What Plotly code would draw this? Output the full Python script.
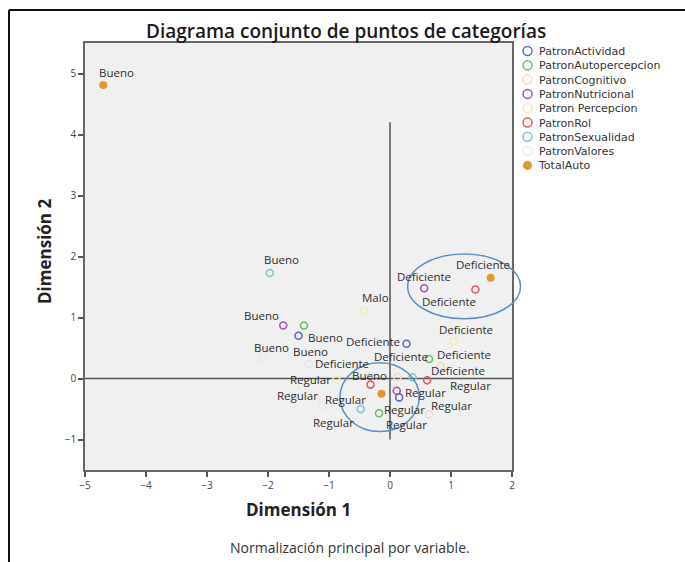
import plotly.graph_objects as go

# Category quantifications (Dimensión 1, Dimensión 2) per variable
actividad_cat = ["Bueno", "Deficiente", "Regular"]
actividad_d1 = [-1.50, 0.27, 0.15]
actividad_d2 = [0.70, 0.57, -0.31]

autopercepcion_cat = ["Bueno", "Deficiente", "Regular"]
autopercepcion_d1 = [-1.41, 0.64, -0.18]
autopercepcion_d2 = [0.87, 0.32, -0.57]

cognitivo_cat = ["Bueno", "Deficiente", "Regular"]
cognitivo_d1 = [0.12, 0.83, 0.64]
cognitivo_d2 = [0.02, 0.20, -0.59]

nutricional_cat = ["Bueno", "Deficiente", "Regular"]
nutricional_d1 = [-1.75, 0.56, 0.11]
nutricional_d2 = [0.87, 1.48, -0.20]

percepcion_cat = ["Malo", "Deficiente", "Regular"]
percepcion_d1 = [-0.43, 1.04, -0.88]
percepcion_d2 = [1.11, 0.61, -0.02]

rol_cat = ["Bueno", "Deficiente", "Regular"]
rol_d1 = [-0.32, 1.40, 0.61]
rol_d2 = [-0.10, 1.46, -0.03]

sexualidad_cat = ["Bueno", "Deficiente", "Regular"]
sexualidad_d1 = [-1.97, 0.37, -0.48]
sexualidad_d2 = [1.73, 0.02, -0.50]

valores_cat = ["Bueno", "Deficiente", "Regular"]
valores_d1 = [-2.09, -1.33, -1.11]
valores_d2 = [0.33, 0.24, -0.44]

total_cat = ["Bueno", "Deficiente", "Regular"]
total_d1 = [-4.70, 1.65, -0.14]
total_d2 = [4.81, 1.65, -0.25]

x_ticks = [-5, -4, -3, -2, -1, 0, 1, 2]
y_ticks = [-1, 0, 1, 2, 3, 4, 5]

# series: name, categories, dim1, dim2, colour, filled, label offsets (px, px)
series = [
    ("PatronActividad", actividad_cat, actividad_d1, actividad_d2, "#5b6bbd", False,
     [(12, -16), (-33, 2), (5, -12)]),
    ("PatronAutopercepcion", autopercepcion_cat, autopercepcion_d1, autopercepcion_d2, "#69bd68", False,
     [(22, -12), (-28, 2), (27, -11)]),
    ("PatronCognitivo", cognitivo_cat, cognitivo_d1, cognitivo_d2, "#f1dccb", False,
     [(-28, 2), (23, 12), (22, 9)]),
    ("PatronNutricional", nutricional_cat, nutricional_d1, nutricional_d2, "#9c5ba8", False,
     [(-22, 10), (0, 12), (29, -2)]),
    ("Patron Percepcion", percepcion_cat, percepcion_d1, percepcion_d2, "#f4ecae", False,
     [(12, 13), (13, 12), (-26, 0)]),
    ("PatronRol", rol_cat, rol_d1, rol_d2, "#e25c5c", False,
     [None, (-26, -12), (43, -5)]),
    ("PatronSexualidad", sexualidad_cat, sexualidad_d1, sexualidad_d2, "#79c9d2", False,
     [(12, 13), (45, 7), (-27, -13)]),
    ("PatronValores", valores_cat, valores_d1, valores_d2, "#e9e9e9", False,
     [(9, 11), (33, 0), (-25, 10)]),
    ("TotalAuto", total_cat, total_d1, total_d2, "#e8952f", True,
     [(13, 13), (-8, 13), (-36, -6)]),
]

X_RANGE = [-5, 2]
Y_RANGE = [-1.5, 5.5]

# plot-area placement in page pixels
W, H = 685, 562
L, R, T, B = 85, 173, 43, 92
PW, PH = W - L - R, H - T - B


def px_x(px):
    return (px - L) / PW


def px_y(py):
    return (H - B - py) / PH


def data_x(v):
    return (v - X_RANGE[0]) / (X_RANGE[1] - X_RANGE[0])


def data_y(v):
    return (v - Y_RANGE[0]) / (Y_RANGE[1] - Y_RANGE[0])


fig = go.Figure()
annotations = []
shapes = []

label_font = dict(family="Open Sans", size=11.5, color="#2e2e2e")

for name, cats, d1, d2, col, filled, offs in series:
    if filled:
        marker = dict(symbol="circle", size=8, color=col, line=dict(width=0))
    else:
        marker = dict(symbol="circle-open", size=7, color=col, line=dict(width=1.6))
    fig.add_trace(go.Scatter(x=d1, y=d2, mode="markers", marker=marker, name=name,
                             showlegend=False, cliponaxis=False, hoverinfo="text+x+y",
                             text=cats))
    for c, xv, yv, off in zip(cats, d1, d2, offs):
        if off is None:
            continue
        annotations.append(dict(x=xv, y=yv, xref="x", yref="y", text=c, showarrow=False,
                                xanchor="center", yanchor="middle", borderpad=0,
                                xshift=off[0], yshift=off[1], font=label_font))

# reference lines through the origin
shapes.append(dict(type="line", xref="x", yref="y", x0=X_RANGE[0], x1=X_RANGE[1], y0=0, y1=0,
                   line=dict(color="#555555", width=1.5), layer="below"))
shapes.append(dict(type="line", xref="x", yref="y", x0=0, x1=0, y0=-1, y1=4.2,
                   line=dict(color="#555555", width=1.5), layer="below"))

# highlighted groups (may spill past the frame, so drawn in paper units)
ellipses = [(0.29, 2.14, 0.98, 2.04), (-0.82, 0.48, -0.87, 0.26)]
for x0, x1, y0, y1 in ellipses:
    shapes.append(dict(type="circle", xref="paper", yref="paper",
                       x0=data_x(x0), x1=data_x(x1), y0=data_y(y0), y1=data_y(y1),
                       line=dict(color="#5a8ec4", width=1.5)))

# hand-built legend: one text block, symbols aligned to its lines
leg_size = 11
leg_line = 1.3 * leg_size
leg_top = 51
for i, (name, cats, d1, d2, col, filled, offs) in enumerate(series):
    cy = leg_top + leg_line * i
    shapes.append(dict(type="circle", xref="paper", yref="paper",
                       x0=px_x(523), x1=px_x(532), y0=px_y(cy + 4.5), y1=px_y(cy - 4.5),
                       fillcolor=col if filled else "rgba(0,0,0,0)",
                       line=dict(color=col, width=1.5 if not filled else 0)))
annotations.append(dict(x=px_x(537), y=px_y(leg_top + leg_line * (len(series) - 1) / 2),
                        xref="paper", yref="paper",
                        text="<br>".join(s[0] for s in series), align="left",
                        showarrow=False, xanchor="left", yanchor="middle", borderpad=0,
                        font=dict(family="DejaVu Sans", size=leg_size, color="#333333")))

# outer frame (top and left edges)
shapes.append(dict(type="line", xref="paper", yref="paper", x0=px_x(9), x1=px_x(W + 5),
                   y0=px_y(10), y1=px_y(10), line=dict(color="#111111", width=2)))
shapes.append(dict(type="line", xref="paper", yref="paper", x0=px_x(9), x1=px_x(9),
                   y0=px_y(10), y1=px_y(H + 5), line=dict(color="#111111", width=2)))

# titles and note
annotations.append(dict(x=px_x(346), y=px_y(31), xref="paper", yref="paper",
                        text="Diagrama conjunto de puntos de categorías", showarrow=False,
                        xanchor="center", yanchor="middle",
                        font=dict(family="Open Sans", size=19, color="#1a1a1a", weight=600)))
annotations.append(dict(x=px_x(298.5), y=px_y(509), xref="paper", yref="paper",
                        text="Dimensión 1", showarrow=False, xanchor="center", yanchor="middle",
                        font=dict(family="Open Sans", size=17, color="#222222", weight=700)))
annotations.append(dict(x=px_x(44), y=px_y(252), xref="paper", yref="paper",
                        text="Dimensión 2", showarrow=False, xanchor="center", yanchor="middle",
                        textangle=-90,
                        font=dict(family="Open Sans", size=17, color="#222222", weight=700)))
annotations.append(dict(x=px_x(350), y=px_y(547), xref="paper", yref="paper",
                        text="Normalización principal por variable.", showarrow=False,
                        xanchor="center", yanchor="middle",
                        font=dict(family="Open Sans", size=14, color="#333333")))

axis_common = dict(showgrid=False, zeroline=False, showline=True, linecolor="#666666",
                   linewidth=1.5, mirror=True, ticks="outside", ticklen=5, tickwidth=1.5,
                   tickcolor="#555555", tickfont=dict(family="Open Sans", size=10, color="#444444"))

fig.update_layout(
    width=W, height=H, autosize=False,
    margin=dict(l=L, r=R, t=T, b=B),
    paper_bgcolor="white", plot_bgcolor="#f0f0f0",
    xaxis=dict(range=X_RANGE, tickvals=x_ticks, **axis_common),
    yaxis=dict(range=Y_RANGE, tickvals=y_ticks, **axis_common),
    shapes=shapes, annotations=annotations, showlegend=False,
)

fig.write_html("out.html")
